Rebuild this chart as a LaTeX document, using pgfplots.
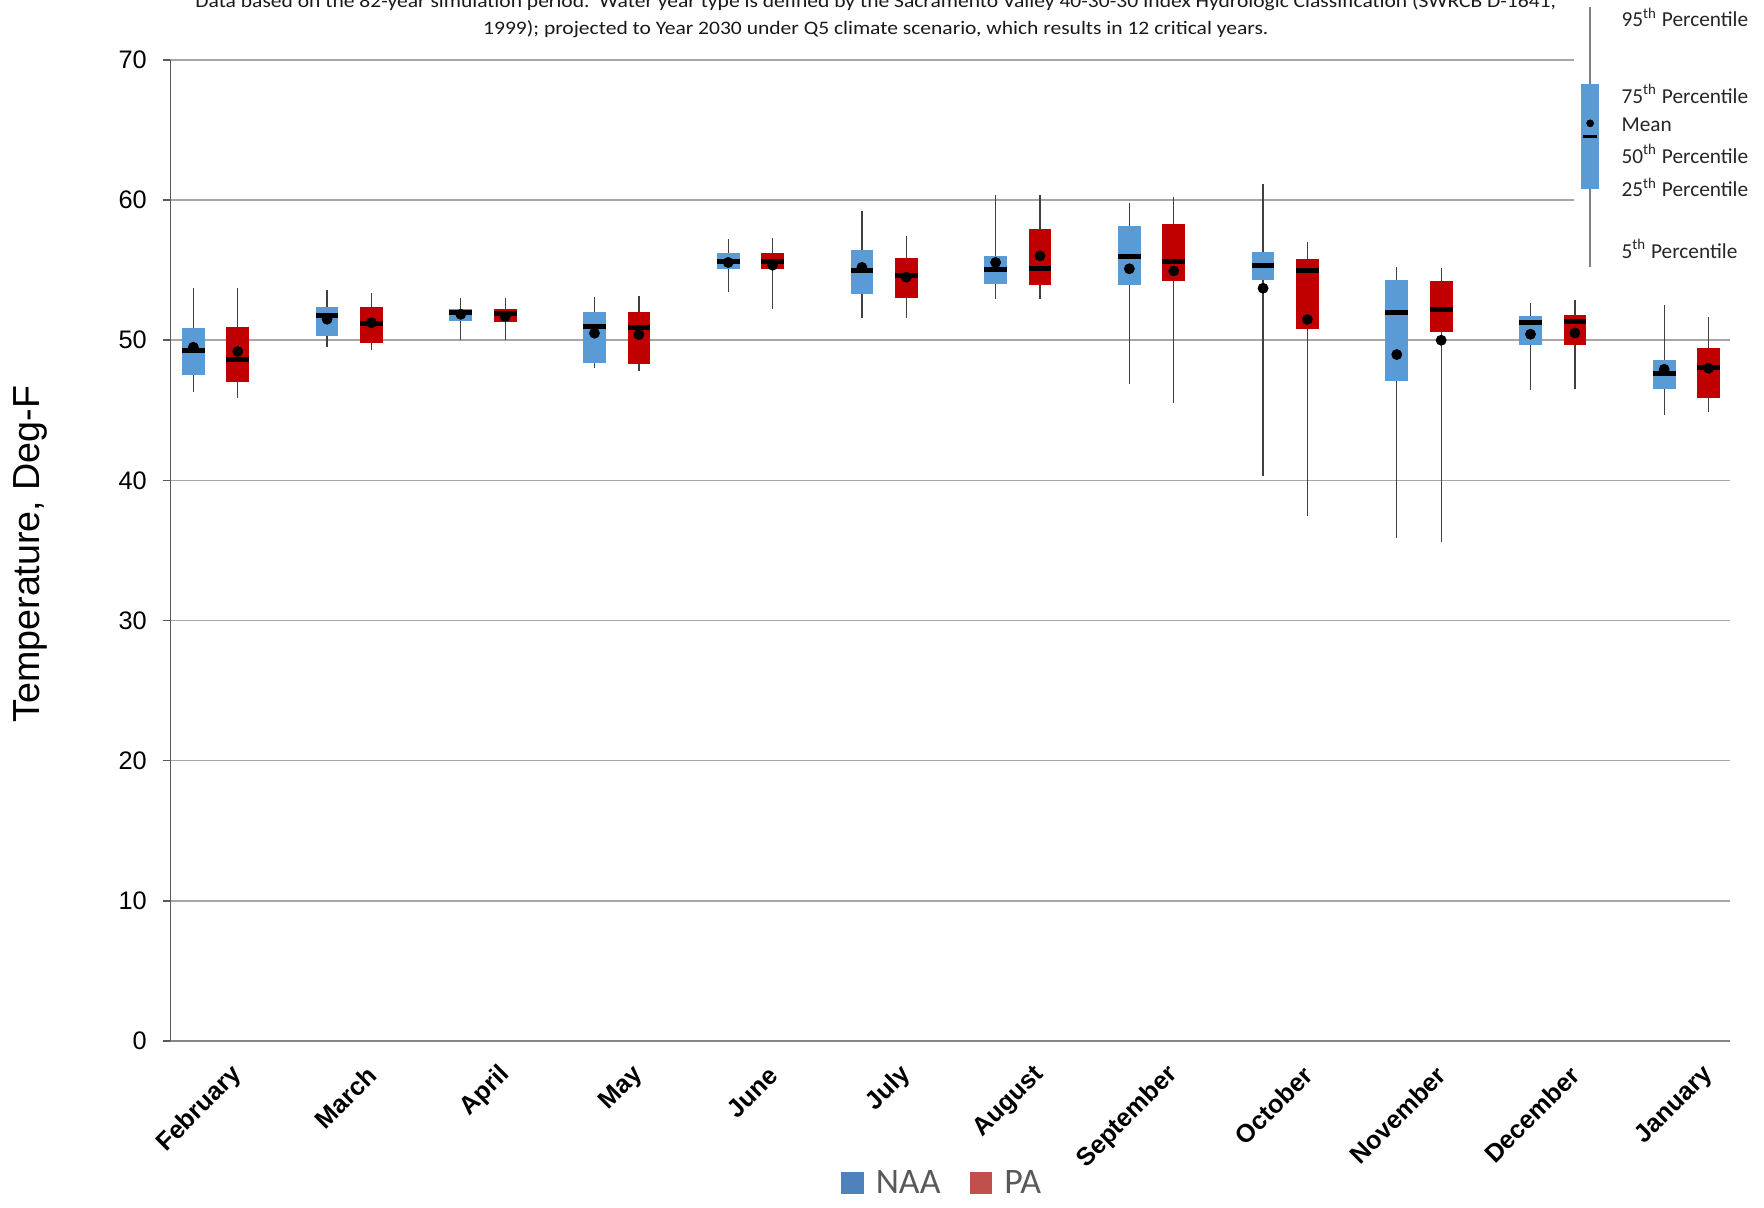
\documentclass[border=0pt]{standalone}
\usepackage{fontspec}
\setmainfont{Liberation Sans}
\newfontfamily\carlito{Carlito}
\newfontfamily\carlitowide[FakeStretch=1.13]{Carlito}
\usepackage{pgfplots}
\pgfplotsset{compat=1.18}
\usepgfplotslibrary{statistics}
\definecolor{naablue}{HTML}{5B9BD5}
\definecolor{pared}{HTML}{C00000}
\definecolor{legblue}{HTML}{4F81BD}
\definecolor{legred}{HTML}{C0504D}
\definecolor{legtext}{HTML}{595959}
\definecolor{gridgray}{HTML}{A6A6A6}
\definecolor{axisgray}{HTML}{868686}
\pgfplotsset{
  bp/.style={boxplot/draw direction=y, boxplot/whisker extend=0, boxplot/box extend=0.17,
    boxplot/every whisker/.style={draw=black!75, line width=0.6bp},
    boxplot/every median/.style={draw=black, line width=2.2bp},
    boxplot/every average/.style={/tikz/mark=*, /tikz/mark size=2.2bp, /tikz/draw=black, /tikz/fill=black}},
}
% color, position, lower whisker, lower quartile, median, upper quartile, upper whisker, average
\newcommand{\bxp}[8]{\addplot[bp, boxplot/every box/.style={fill=#1, draw=none},
  boxplot prepared={draw position=#2, lower whisker=#3, lower quartile=#4, median=#5,
  upper quartile=#6, upper whisker=#7, average=#8}] coordinates {};}
\begin{document}
\begin{tikzpicture}
\begin{axis}[
  scale only axis, width=693.25bp, height=436bp,
  xmin=-0.3374, xmax=11.328, ymin=0, ymax=70,
  clip=false,
  separate axis lines,
  axis x line=bottom, axis y line=left,
  x axis line style={-, draw=axisgray, line width=1bp},
  y axis line style={-, draw=black!65, line width=0.7bp},
  xtick={0,...,11},
  xticklabels={February,March,April,May,June,July,August,September,October,November,December,January},
  x tick label style={font=\bfseries\fontsize{11.3}{13}\selectfont, xshift=12.5bp, yshift=-7.5bp, rotate=45, anchor=east},
  x tick style={draw=none},
  ytick={0,10,...,70},
  y tick label style={font=\fontsize{11.3}{13}\selectfont, xshift=-3.5bp},
  /pgf/number format/assume math mode=true,
  tick align=outside,
  major tick length=3.5bp,
  y tick style={draw=black!65, line width=0.7bp},
  ymajorgrids,
  grid style={draw=gridgray, line width=0.7bp},
  every axis y label/.style={at={(axis description cs:-0.0898,0.4963)}, rotate=90, anchor=center},
  ylabel={Temperature, Deg-F},
  ylabel style={font=\fontsize{16.8}{19}\selectfont},
  legend style={draw=none, fill=none, at={(0.4955,-0.145)}, anchor=center,
    font=\carlito\fontsize{16}{18}\selectfont, text=legtext, legend columns=2,
    /tikz/every even column/.append style={column sep=11bp}},
  legend image code/.code={\fill[#1, draw=none] (0bp,-5bp) rectangle (10bp,5bp); \path[draw=none, fill=none] (0bp,0bp) rectangle (13.4bp,0.1bp);},
]
\addlegendimage{fill=legblue}\addlegendentry{NAA}
\addlegendimage{fill=legred}\addlegendentry{PA}
% NAA
\bxp{naablue}{-0.166}{46.3}{47.5}{49.3}{50.9}{53.7}{49.5}
\bxp{naablue}{0.834}{49.5}{50.3}{51.8}{52.4}{53.6}{51.5}
\bxp{naablue}{1.834}{50.0}{51.4}{52.0}{52.2}{53.0}{51.85}
\bxp{naablue}{2.834}{48.05}{48.4}{50.95}{52.0}{53.1}{50.5}
\bxp{naablue}{3.834}{53.45}{55.1}{55.65}{56.2}{57.2}{55.55}
\bxp{naablue}{4.834}{51.6}{53.3}{54.98}{56.45}{59.24}{55.2}
\bxp{naablue}{5.834}{52.96}{54.0}{55.07}{55.98}{60.4}{55.55}
\bxp{naablue}{6.834}{46.9}{53.95}{55.98}{58.17}{59.76}{55.1}
\bxp{naablue}{7.834}{40.33}{54.33}{55.36}{56.33}{61.17}{53.71}
\bxp{naablue}{8.834}{35.86}{47.07}{51.95}{54.29}{55.26}{48.98}
\bxp{naablue}{9.834}{46.43}{49.64}{51.26}{51.76}{52.69}{50.43}
\bxp{naablue}{10.834}{44.65}{46.5}{47.62}{48.57}{52.5}{47.93}
% PA
\bxp{pared}{0.166}{45.9}{47.0}{48.6}{50.95}{53.7}{49.2}
\bxp{pared}{1.166}{49.3}{49.8}{51.2}{52.35}{53.4}{51.25}
\bxp{pared}{2.166}{50.0}{51.3}{51.9}{52.2}{53.0}{51.7}
\bxp{pared}{3.166}{47.8}{48.3}{50.9}{52.0}{53.15}{50.4}
\bxp{pared}{4.166}{52.2}{55.1}{55.6}{56.2}{57.3}{55.36}
\bxp{pared}{5.166}{51.58}{53.0}{54.65}{55.84}{57.45}{54.5}
\bxp{pared}{6.166}{52.93}{53.93}{55.12}{57.95}{60.36}{56.02}
\bxp{pared}{7.166}{45.55}{54.2}{55.64}{58.33}{60.24}{54.95}
\bxp{pared}{8.166}{37.45}{50.79}{54.95}{55.79}{56.98}{51.48}
\bxp{pared}{9.166}{35.6}{50.6}{52.19}{54.21}{55.19}{50.0}
\bxp{pared}{10.166}{46.55}{49.69}{51.36}{51.83}{52.9}{50.52}
\bxp{pared}{11.166}{44.9}{45.9}{48.05}{49.48}{51.64}{48.0}
% key panel
\fill[white] (axis cs:10.159,56.5) rectangle (axis cs:11.6,76);
\addplot[bp, boxplot/box extend=0.137,
  boxplot/every box/.style={fill=naablue, draw=none},
  boxplot/every whisker/.style={draw=gray, line width=0.6bp},
  boxplot/every median/.style={draw=black, line width=1.2bp, shorten <=1bp, shorten >=1bp},
  boxplot/every average/.style={/tikz/mark=*, /tikz/mark size=1.5bp, /tikz/draw=black, /tikz/fill=black},
  boxplot prepared={draw position=10.28, lower whisker=55.25, lower quartile=60.79, median=64.53,
  upper quartile=68.26, upper whisker=73.8, average=65.48}] coordinates {};
\begin{scope}[every node/.style={anchor=base west, font=\carlito\fontsize{9.5}{11}\selectfont, text=black!85, inner sep=0pt}]
\node at (axis cs:10.512,72.38) {95\textsuperscript{th} Percentile};
\node at (axis cs:10.512,66.91) {75\textsuperscript{th} Percentile};
\node at (axis cs:10.512,64.89) {Mean};
\node at (axis cs:10.512,62.62) {50\textsuperscript{th} Percentile};
\node at (axis cs:10.512,60.25) {25\textsuperscript{th} Percentile};
\node at (axis cs:10.512,55.85) {5\textsuperscript{th} Percentile};
\end{scope}
\node[font=\carlitowide\fontsize{8.5}{10}\selectfont, anchor=base, text=black!90] at (axis description cs:0.4522,1.0537) {Data based on the 82-year simulation period.\ \ Water year type is defined by the Sacramento Valley 40-30-30 Index Hydrologic Classification (SWRCB D-1641,};
\node[font=\carlitowide\fontsize{8.5}{10}\selectfont, anchor=base, text=black!90] at (axis description cs:0.4522,1.0261) {1999); projected to Year 2030 under Q5 climate scenario, which results in 12 critical years.};
\end{axis}
\pgfresetboundingbox
\useasboundingbox (-75.75bp,-73.85bp) rectangle (708.25bp,462.65bp);
\end{tikzpicture}
\end{document}
